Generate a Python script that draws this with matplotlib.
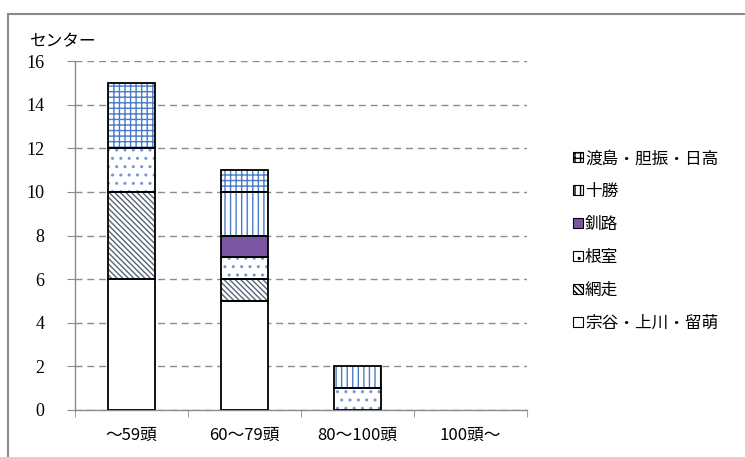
import numpy as np
import matplotlib.pyplot as plt
from matplotlib.patches import Patch, Rectangle

plt.rcParams['font.family'] = ['Noto Sans CJK JP', 'DejaVu Sans']
plt.rcParams['hatch.linewidth'] = 1.0

# herd size classes and number of centers per region
categories = ['～59頭', '60～79頭', '80～100頭', '100頭～']
soya = [6, 5, 0, 0]       # 宗谷・上川・留萌
abashiri = [4, 1, 0, 0]   # 網走
nemuro = [2, 1, 1, 0]     # 根室
kushiro = [0, 1, 0, 0]    # 釧路
tokachi = [0, 2, 1, 0]    # 十勝
oshima = [3, 1, 0, 0]     # 渡島・胆振・日高

names = ['宗谷・上川・留萌', '網走', '根室', '釧路', '十勝', '渡島・胆振・日高']
series = [soya, abashiri, nemuro, kushiro, tokachi, oshima]
blue = '#4a7cc8'
styles = [
    dict(fc='white', hatch=None, hc='white'),
    dict(fc='white', hatch='\\\\\\\\\\\\', hc='#56657a'),
    dict(fc='white', hatch='..', hc='#6f98d6'),
    dict(fc='#7a55a0', hatch=None, hc='#7a55a0'),
    dict(fc='white', hatch='|||', hc=blue),
    dict(fc='white', hatch='+++', hc=blue),
]

fig = plt.figure(figsize=(7.45, 4.57), dpi=100)
ax = fig.add_axes([75/745, 47/457, 452/745, 349/457])

# outer frame of the chart area
fig.patches.append(Rectangle((8/745, -0.1), 1.0, 1 - 14/457 + 0.1,
                             transform=fig.transFigure, fill=False,
                             ec='#8a8a8a', lw=1.5))

x = np.arange(len(categories))
width = 0.41
bottom = np.zeros(len(categories))
for vals, st in zip(series, styles):
    vals = np.array(vals, dtype=float)
    m = vals > 0
    ax.bar(x[m], vals[m], width, bottom=bottom[m], color=st['fc'], hatch=st['hatch'],
           edgecolor=st['hc'], linewidth=0, zorder=2)
    ax.bar(x[m], vals[m], width, bottom=bottom[m], fill=False,
           edgecolor='black', linewidth=1.3, zorder=3)
    bottom += vals

ax.set_xlim(-0.5, 3.5)
ax.set_ylim(0, 16)
ax.set_yticks(np.arange(0, 17, 2))
ax.yaxis.grid(True, ls=(0, (5, 3.5)), color='#8c8c8c', lw=1.0)
ax.set_axisbelow(True)

for s in ['top', 'right']:
    ax.spines[s].set_visible(False)
for s in ['left', 'bottom']:
    ax.spines[s].set_color('#8c8c8c')
    ax.spines[s].set_linewidth(1.0)

ax.set_xticks(x)
ax.set_xticklabels(categories, fontsize=12)
ax.set_xticks(np.arange(-0.5, 4, 1), minor=True)
ax.tick_params(axis='x', which='major', length=0, pad=12)
ax.tick_params(axis='x', which='minor', length=5, color='#8c8c8c', direction='out')
ax.tick_params(axis='y', length=6, color='#8c8c8c', pad=16)
for t in ax.get_yticklabels():
    t.set_fontfamily('Liberation Serif')
    t.set_fontsize(13)

fig.text(30/745, 1 - 42/457, 'センター', fontsize=12, va='center', ha='left')

handles = [Patch(facecolor=st['fc'], hatch=st['hatch'], edgecolor='black', lw=0.8)
           for st in styles]
leg = fig.legend(handles[::-1], names[::-1], loc='upper left',
                 bbox_to_anchor=(565/745, 1 - 142/457), frameon=False,
                 fontsize=12, handlelength=0.55, handleheight=0.55,
                 handletextpad=0.15, labelspacing=0.95, borderpad=0)

fig.savefig('out.png', dpi=100)
